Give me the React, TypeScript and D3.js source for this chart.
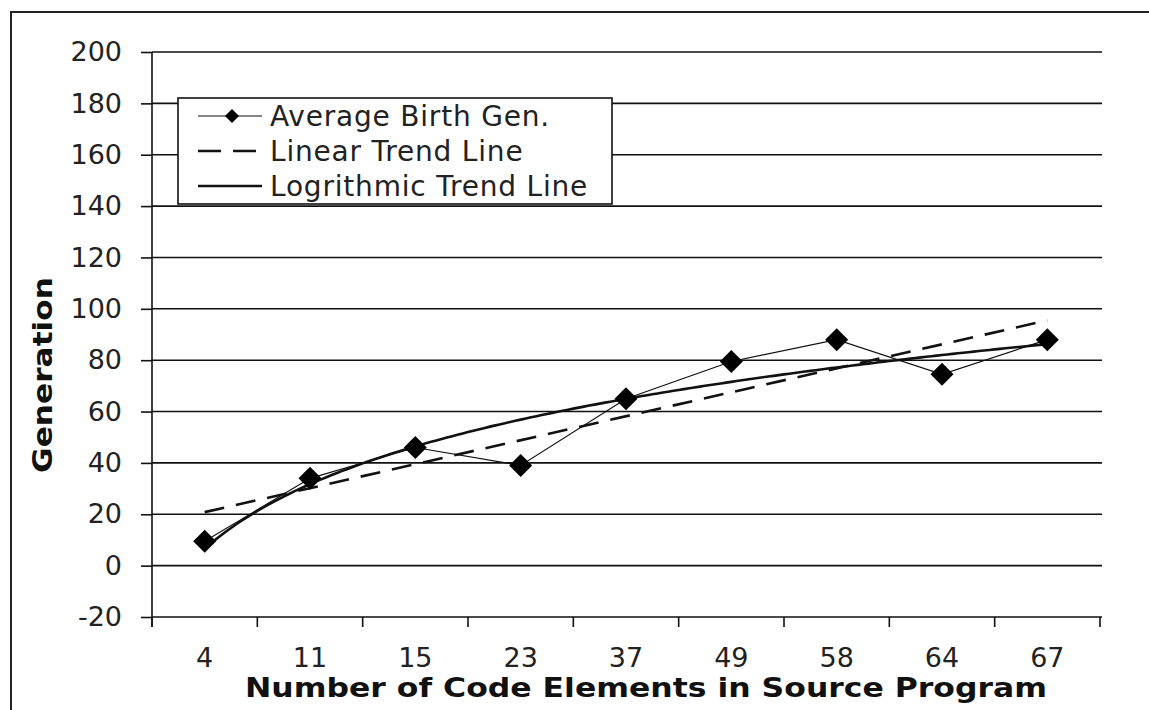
import * as d3 from "d3";
import { useEffect, useRef } from "react";

// Data
const categories = ["4", "11", "15", "23", "37", "49", "58", "64", "67"];
const birthGen = [9.5, 34, 46, 39, 65, 79.5, 88, 74.5, 88];
const yTicks = [-20, 0, 20, 40, 60, 80, 100, 120, 140, 160, 180, 200];
const legendLabels = ["Average Birth Gen.", "Linear Trend Line", "Logrithmic Trend Line"];

const FONT = "'DejaVu Sans', Verdana, sans-serif";

// least squares fit y = a * f(i) + b, i = 1..n
const fit = (f: (i: number) => number, ys: number[]) => {
  const xs = ys.map((_, k) => f(k + 1));
  const mx = d3.mean(xs) as number;
  const my = d3.mean(ys) as number;
  let sxy = 0;
  let sxx = 0;
  xs.forEach((x, k) => {
    sxy += (x - mx) * (ys[k] - my);
    sxx += (x - mx) * (x - mx);
  });
  const a = sxy / sxx;
  return (i: number) => a * f(i) + (my - a * mx);
};

const App = () => {
  const svgRef = useRef<SVGSVGElement>(null);

  useEffect(() => {
    if (!svgRef.current) return;
    const width = 1149;
    const height = 710;
    const margin = { top: 52, right: 49, bottom: 93, left: 152 };

    const svg = d3.select(svgRef.current).attr("width", width).attr("height", height);
    svg.selectAll("*").remove();

    // outer frame
    svg
      .append("rect")
      .attr("x", 11)
      .attr("y", 12)
      .attr("width", width + 20)
      .attr("height", height + 20)
      .attr("fill", "white")
      .attr("stroke", "#222")
      .attr("stroke-width", 2);

    const x = d3
      .scaleBand()
      .domain(categories)
      .range([margin.left, width - margin.right]);
    const y = d3
      .scaleLinear()
      .domain([-20, 200])
      .range([height - margin.bottom, margin.top]);

    // gridlines
    svg
      .append("g")
      .selectAll("line")
      .data(yTicks)
      .join("line")
      .attr("x1", margin.left)
      .attr("x2", width - margin.right + 2)
      .attr("y1", d => y(d))
      .attr("y2", d => y(d))
      .attr("stroke", "#111")
      .attr("stroke-width", 1.6);

    // y axis
    const yAxis = svg
      .append("g")
      .attr("transform", `translate(${margin.left},0)`)
      .call(
        d3
          .axisLeft(y)
          .tickValues(yTicks)
          .tickSize(11)
          .tickPadding(19)
          .tickFormat(d => String(d))
      );
    yAxis.select(".domain").attr("stroke", "#111").attr("stroke-width", 1.6).attr("d", `M0,${y(200)}V${y(-20) + 10}`);
    yAxis.selectAll(".tick line").attr("stroke", "#111").attr("stroke-width", 1.6);
    yAxis
      .selectAll(".tick text")
      .attr("font-family", FONT)
      .attr("font-size", 27)
      .attr("fill", "#222");

    // x axis (ticks at category boundaries)
    const xAxis = svg.append("g").attr("transform", `translate(0,${y(-20)})`);
    const bounds = d3.range(categories.length + 1).map(i => margin.left + i * x.bandwidth());
    xAxis
      .selectAll("line")
      .data(bounds)
      .join("line")
      .attr("x1", d => d)
      .attr("x2", d => d)
      .attr("y1", 0)
      .attr("y2", 10)
      .attr("stroke", "#111")
      .attr("stroke-width", 1.6);
    xAxis
      .selectAll("text")
      .data(categories)
      .join("text")
      .attr("x", d => (x(d) as number) + x.bandwidth() / 2)
      .attr("y", 50)
      .attr("text-anchor", "middle")
      .attr("font-family", FONT)
      .attr("font-size", 27)
      .attr("fill", "#222")
      .text(d => d);

    // axis titles
    svg
      .append("text")
      .attr("x", 646)
      .attr("y", 697)
      .attr("text-anchor", "middle")
      .attr("font-family", FONT)
      .attr("font-weight", "bold")
      .attr("font-size", 27)
      .attr("textLength", 802)
      .attr("lengthAdjust", "spacingAndGlyphs")
      .attr("fill", "#111")
      .text("Number of Code Elements in Source Program");
    svg
      .append("text")
      .attr("transform", "translate(52,375) rotate(-90)")
      .attr("text-anchor", "middle")
      .attr("font-family", FONT)
      .attr("font-weight", "bold")
      .attr("font-size", 27)
      .attr("textLength", 196)
      .attr("lengthAdjust", "spacingAndGlyphs")
      .attr("fill", "#111")
      .text("Generation");

    const cx = (i: number) => (x(categories[0]) as number) + x.bandwidth() / 2 + (i - 1) * x.bandwidth();

    // trend lines
    const linFit = fit(i => i, birthGen);
    const logFit = fit(i => Math.log(i), birthGen);
    const line = d3
      .line<number>()
      .x(i => cx(i))
      .y(i => y(logFit(i)));
    const samples = d3.range(1, categories.length + 0.001, 0.05);
    svg
      .append("path")
      .datum(samples)
      .attr("fill", "none")
      .attr("stroke", "#111")
      .attr("stroke-width", 2.6)
      .attr("d", line);
    svg
      .append("line")
      .attr("x1", cx(1))
      .attr("x2", cx(categories.length))
      .attr("y1", y(linFit(1)))
      .attr("y2", y(linFit(categories.length)))
      .attr("stroke", "#111")
      .attr("stroke-width", 2.6)
      .attr("stroke-dasharray", "20,12");

    // data series
    const dataLine = d3
      .line<number>()
      .x((_, i) => cx(i + 1))
      .y(d => y(d));
    svg
      .append("path")
      .datum(birthGen)
      .attr("fill", "none")
      .attr("stroke", "#111")
      .attr("stroke-width", 1.2)
      .attr("d", dataLine);
    const diamond = (s: number) => `M0,${-s}L${s},0L0,${s}L${-s},0Z`;
    svg
      .append("g")
      .selectAll("path")
      .data(birthGen)
      .join("path")
      .attr("transform", (d, i) => `translate(${cx(i + 1)},${y(d)})`)
      .attr("d", diamond(11.5))
      .attr("fill", "#000");

    // legend
    const lg = svg.append("g").attr("transform", "translate(178,98)");
    lg.append("rect")
      .attr("width", 434)
      .attr("height", 106)
      .attr("fill", "white")
      .attr("stroke", "#111")
      .attr("stroke-width", 1.6);
    legendLabels.forEach((label, i) => {
      const ry = 18 + i * 35;
      const row = lg.append("g").attr("transform", `translate(0,${ry})`);
      const sample = row
        .append("line")
        .attr("x1", 20)
        .attr("x2", 84)
        .attr("stroke", "#111");
      if (i === 0) {
        sample.attr("stroke-width", 1.2);
        row.append("path").attr("transform", "translate(54,0)").attr("d", diamond(7)).attr("fill", "#000");
      } else if (i === 1) {
        sample.attr("stroke-width", 2.6).attr("stroke-dasharray", "23,12");
      } else {
        sample.attr("stroke-width", 2.6);
      }
      row
        .append("text")
        .attr("x", 92)
        .attr("y", 10)
        .attr("font-family", FONT)
        .attr("font-size", 28)
        .attr("letter-spacing", 0.8)
        .attr("fill", "#222")
        .text(label);
    });
  }, []);

  return (
    <svg
      ref={svgRef}
      style={{ position: "absolute", left: 0, top: 0, background: "white" }}
    ></svg>
  );
};

export default App;
